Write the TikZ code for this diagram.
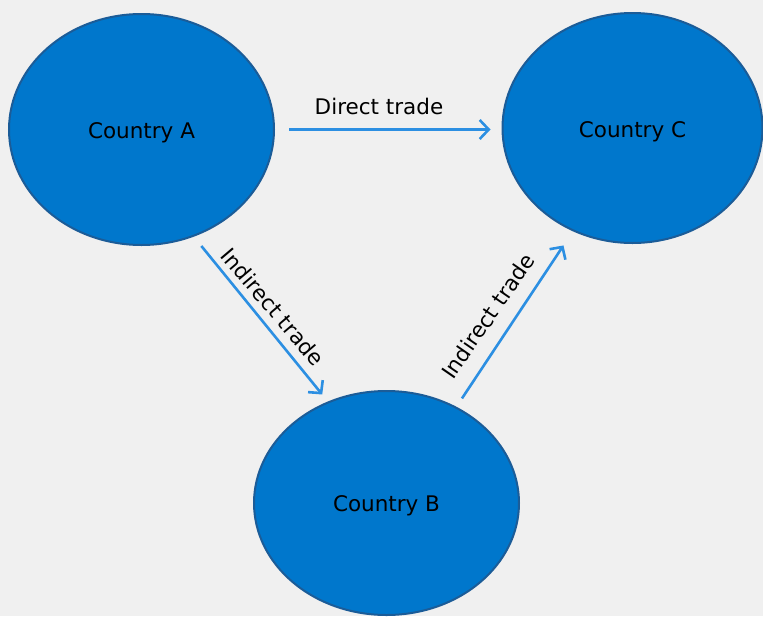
\documentclass[tikz,border=0pt]{standalone}
\usepackage{fontspec}
\newfontfamily\lblfont{DejaVu Sans}
\usetikzlibrary{shapes.geometric,arrows.meta}
\definecolor{bg}{HTML}{F0F0F0}
\definecolor{cfill}{HTML}{0077CC}
\definecolor{cline}{HTML}{1B5C98}
\definecolor{carrow}{HTML}{2C8FE2}
\tikzset{
  country/.style={ellipse, draw=cline, line width=2pt, fill=cfill, inner sep=0pt,
    text depth=0pt, font=\lblfont\fontsize{21.5}{24}\selectfont, text=black},
  conn/.style={draw=carrow, line width=2.6pt,
    -{Straight Barb[length=9pt,width=19pt,line width=2.6pt]}},
  lbl/.style={font=\lblfont\fontsize{21.5}{24}\selectfont, text=black, inner sep=0pt}
}
\begin{document}
\begin{tikzpicture}[x=1pt,y=-1pt]
\fill[bg] (0,0) rectangle (763,616);
\useasboundingbox (0,0) rectangle (763,616);
\node[country, minimum width=265pt, minimum height=231pt] (A) at (141.5,129.5) {\raisebox{-3pt}{Country A}};
\node[country, minimum width=260pt, minimum height=230pt] (C) at (632.5,128) {\raisebox{-3pt}{Country C}};
\node[country, minimum width=265pt, minimum height=224pt] (B) at (386.5,503) {\raisebox{-2pt}{Country B}};
\draw[conn, shorten <=14pt, shorten >=11pt] (A.east) -- (A.east -| C.west);
\draw[conn, shorten <=12pt, shorten >=9pt] (A.-64.4) -- (B.120.3);
\draw[conn, shorten <=10pt, shorten >=17pt] (B.54.8) -- (C.240.4);
\node[lbl] (d) at (379,106) {Direct trade};
\node[lbl, rotate=-49.6] (i1) at (273,307) {Indirect trade};
\node[lbl, rotate=55.4] (i2) at (488,316) {Indirect trade};
\end{tikzpicture}
\end{document}
